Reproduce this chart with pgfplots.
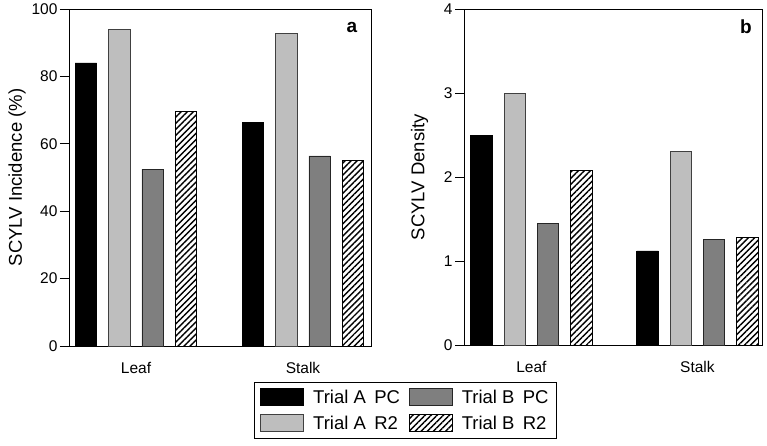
\documentclass[border=0pt]{standalone}
\usepackage{pgfplots}
\pgfplotsset{compat=1.18}
\usepackage{fontspec}
\setmainfont{Liberation Sans}
\usetikzlibrary{patterns.meta}
\definecolor{lgray}{HTML}{BEBEBE}
\definecolor{dgray}{HTML}{7F7F7F}
\begin{document}
\begin{tikzpicture}
\useasboundingbox (0pt,0pt) rectangle (767pt,-445pt);
\pgfplotsset{
  mybars/.style={
    scale only axis,
    axis line style={line width=1pt},
    ybar, bar shift=0pt, bar width=21.5pt,
    ymin=0,
    xtick={0,1}, xticklabels={Leaf,Stalk},
    xtick style={draw=none},
    ytick style={line width=0.9pt, black},
    tick align=outside,
    major tick length=9pt,
    ytick pos=left,
    tick label style={font=\fontsize{15.5pt}{18pt}\selectfont},
    /pgf/number format/assume math mode=true,
    yticklabel style={xshift=1pt},
    xticklabel style={yshift=-4pt},
  },
  sA/.style={fill=black, draw=black, line width=0.8pt},
  sB/.style={fill=lgray, draw=black!75, line width=0.8pt},
  sC/.style={fill=dgray, draw=black!85, line width=0.8pt},
  sD/.style={draw=black, line width=0.8pt, pattern={Lines[angle=45,distance=4.3pt,line width=1.4pt]}},
}
\begin{axis}[mybars,
  at={(69pt,-346pt)}, anchor=south west,
  width=302pt, height=337pt,
  xmin=-0.401, xmax=1.407,
  ymax=100, ytick={0,20,40,60,80,100},
  ylabel={SCYLV Incidence (\%)},
  every axis y label/.style={at={(axis description cs:-0.172,0.5)}, rotate=90, anchor=center, font=\fontsize{18.5pt}{22pt}\selectfont},
  legend columns=2, transpose legend,
  legend cell align=left,
  legend style={at={(axis description cs:0.6126,-0.1068)}, anchor=north west,
    draw=black, line width=0.8pt, inner xsep=6pt, inner ysep=5.5pt,
    column sep=7pt, row sep=7pt,
    font=\fontsize{18.5pt}{22pt}\selectfont},
  legend image code/.code={\draw[#1,/tikz/.cd] (0pt,-8.5pt) rectangle (43pt,8.5pt);},
]
\addplot[sA] coordinates {(-0.3,84) (0.7,66.3)};
\addlegendentry{Trial A\hspace{0.45em}PC}
\addplot[sB] coordinates {(-0.1,94) (0.9,92.7)};
\addlegendentry{Trial A\hspace{0.45em}R2}
\addplot[sC] coordinates {(0.1,52.5) (1.1,56.4)};
\addlegendentry{Trial B\hspace{0.45em}PC}
\addplot[sD] coordinates {(0.3,69.5) (1.3,55.1)};
\addlegendentry{Trial B\hspace{0.45em}R2}
\node[font=\fontsize{19pt}{22pt}\selectfont\bfseries] at (axis description cs:0.937,0.944) {a};
\end{axis}
\begin{axis}[mybars,
  at={(464pt,-345pt)}, anchor=south west,
  width=298pt, height=336pt,
  xmin=-0.406, xmax=1.389,
  ymax=4, ytick={0,1,2,3,4},
  ylabel={SCYLV Density},
  every axis y label/.style={at={(axis description cs:-0.149,0.5)}, rotate=90, anchor=center, font=\fontsize{18.5pt}{22pt}\selectfont},
]
\addplot[sA] coordinates {(-0.3,2.50) (0.7,1.12)};
\addplot[sB] coordinates {(-0.1,3.00) (0.9,2.30)};
\addplot[sC] coordinates {(0.1,1.45) (1.1,1.26)};
\addplot[sD] coordinates {(0.3,2.08) (1.3,1.28)};
\node[font=\fontsize{19pt}{22pt}\selectfont\bfseries] at (axis description cs:0.946,0.946) {b};
\end{axis}
\end{tikzpicture}
\end{document}
